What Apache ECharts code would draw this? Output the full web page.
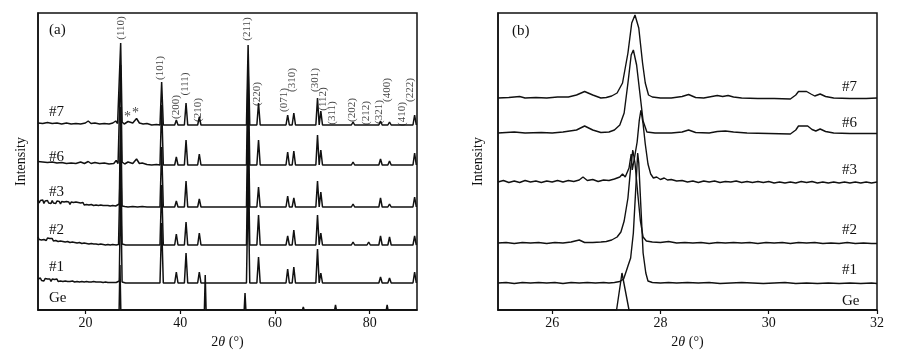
<!DOCTYPE html>
<html><head><meta charset="utf-8">
<script src="https://cdn.jsdelivr.net/npm/echarts@6/dist/echarts.min.js"></script>
<style>html,body{margin:0;padding:0;background:#fff}#c{width:905px;height:364px}</style>
</head><body><div id="c"></div>
<script>
// ---------- Panel (a) data (intensity in arbitrary units) ----------
const samples = ['#7', '#6', '#3', '#2', '#1', 'Ge'];
const aOffsets = [185, 145, 103, 65, 27, 0];
const aPeakPos = [36.1, 39.2, 41.25, 44.05, 54.35, 56.55, 62.7, 64.0, 69.0, 69.7, 72.4, 76.5, 79.8, 82.3, 84.2, 87.5, 89.5];
const aH7 = [43, 5, 22, 8, 80, 22, 10, 12, 27, 14, 2, 3, 2, 4, 3, 1, 10];
const aH6 = [60, 8, 25, 11, 100, 25, 13, 14, 30, 15, 2, 3, 2, 6, 4, 1, 12];
const aH3 = [60, 6, 26, 8, 100, 20, 11, 9, 26, 15, 1.5, 3, 2, 9, 3, 1, 10];
const aH2 = [60, 11, 23, 12, 100, 30, 9, 15, 30, 12, 2, 3, 3, 9, 8, 1, 9];
const aH1 = [60, 11, 30, 11, 100, 26, 14, 16, 34, 10, 2, 2, 2, 6, 5, 1, 11];
const aLow7 = [[10,2],[11,1.5],[12,2.5],[13,1.5],[14,2],[15,1],[16,2],[17,1],[18,1.5],[19,1],[20,2],[20.6,4],[21.2,1.5],[22,2],[23,1],[24,1.5],[25,1],[25.8,2],[26.4,4],[26.8,1.5],[27.15,3],[27.45,82],[27.75,3],[28.2,1],[28.6,1.5],[29.0,3.5],[29.4,1.5],[30,2],[30.8,6.5],[31.4,2],[32.2,1],[33,1.5],[34,0],[35,0.5]];
const aLow6 = [[10,3.5],[11,3],[12,2.5],[13,3],[14,2],[15,2.5],[16,1.5],[17,2],[18,1.5],[19,3],[19.8,1.5],[20.6,3.5],[21.2,1.5],[22,2.5],[23,1.5],[24,2],[25,1],[26,1.5],[26.5,4.5],[26.9,1.5],[27.2,3],[27.45,100],[27.75,3],[28.3,1],[29.0,3],[29.4,1],[30,1.5],[30.8,6],[31.4,1.5],[32,2],[33,0.5],[34,0],[35,0.5]];
// noisy low-angle backgrounds of #3, #2, #1 read every 0.25 deg from 10 to 26 deg
const aNoiseX0 = 10, aNoiseStep = 0.25;
const aNoise3 = [7,4,6.5,4.5,7,3.5,6,4.5,6.5,4, 6,3.5,6.5,4,5.5,3.5,6,4,5.5,3, 5.5,3.5,5,3,5.5,3.5,5,2.5,5,3, 4.5,2.5,5,3,4.5,2.5,4,2.5,4.5,2, 4,2.5,4,2,3.5,2.5,4,1.5,3.5,2, 3.5,1.5,3,2,3.5,1.5,3,1.5,3,1.5, 2.5,1,3,1.5,2.5];
const aNoise2 = [8,5.5,7.5,5,7,5.5,7.5,4.5,7,5, 6.5,4.5,6.5,4,6,4.5,6,3.5,5.5,4, 5.5,3.5,5,3,5,3.5,4.5,2.5,4.5,3, 4,2.5,4,2,3.5,2.5,3.5,1.5,3,2, 3,1.5,3,1,2.5,1.5,2.5,1,2,1, 2,0.5,1.5,1,1.5,0.5,1.5,0,1,0.5, 1,0,1,0.5,0.5];
const aNoise1 = [4,2,5,2.5,4.5,2,4.5,2.5,4,2, 4,1.5,4,2,3.5,2,4,1.5,3.5,2, 3.5,1.5,3.5,2,3,1.5,3.5,1.5,3,2, 3.5,1,3,1.5,3,1,3,1.5,3,1, 2.5,1.5,3,1,2.5,1,2.5,1.5,2.5,1, 2.5,1,2,1,2.5,0.5,2,1,2,0.5, 2,0.5,1.5,0.5,1.5];
const aTail3 = [[26.4,1],[26.8,2],[27.15,3],[27.45,100],[27.75,1],[28.3,0.5],[29,0],[30,0.5],[31,0],[32,0.5],[33,0],[35,0]];
const aTail2 = [[26.5,0],[27,0.5],[27.2,1.5],[27.45,100],[27.75,1],[28.5,0],[30,0],[32,0],[35,0]];
const aTail1 = [[26.5,0.5],[26.9,0],[27.15,2],[27.45,100],[27.75,1],[28.5,0],[31,0],[35,0]];
const aGePos = [27.3, 45.3, 53.7, 66.0, 72.8, 83.7];
const aGeH = [45, 35, 17, 3, 5, 5];
const aLabels = [['(110)',27.45,282],['(101)',35.7,242],['(200)',39.1,203],['(111)',41.0,226],['(210)',43.9,200],['(211)',54.2,281],['(220)',56.2,216],['(071)',62.0,210],['(310)',63.6,230],['(301)',68.5,230],['(112)',70.1,211],['(311)',72.0,197],['(202)',76.2,200],['(212)',79.2,197],['(321)',81.9,198],['(400)',83.6,220],['(410)',86.9,196],['(222)',88.6,220]];
const aStars = [['*',28.9,193],['*',30.6,197]];

// ---------- Panel (b) data ----------
const bOffsets = [212, 177, 128, 67, 27, 0];
const b7 = [[25,0],[25.2,0.5],[25.4,1.5],[25.5,0],[25.7,0.5],[25.9,0],[26.1,1],[26.3,1],[26.45,3],[26.6,6.5],[26.75,3],[26.9,0],[27.0,0.5],[27.1,2],[27.2,5],[27.3,15],[27.4,45],[27.47,75],[27.53,83],[27.6,70],[27.67,35],[27.72,15],[27.78,3],[27.85,1],[28.0,0],[28.2,0],[28.4,1.5],[28.52,3.5],[28.65,0.5],[28.8,0],[28.95,1.5],[29.05,2.5],[29.15,1.5],[29.25,2.5],[29.35,1],[29.5,0],[29.8,-0.5],[30.1,-0.5],[30.4,-1],[30.5,3],[30.55,6.5],[30.7,6.5],[30.78,4],[30.85,2],[30.95,4],[31.05,1.5],[31.2,0],[31.5,-0.5],[31.8,-0.5],[32,0]];
const b6 = [[25,0],[25.3,1],[25.5,0],[25.8,0.5],[26.0,0],[26.2,1],[26.45,3],[26.6,7],[26.75,3],[26.9,0.5],[27.05,1],[27.15,3],[27.25,8],[27.33,20],[27.4,50],[27.46,78],[27.5,83],[27.56,68],[27.62,40],[27.68,12],[27.75,1],[27.9,0],[28.2,0],[28.4,1],[28.52,3],[28.65,0.5],[28.9,0],[29.05,1.5],[29.2,2],[29.35,1],[29.6,0],[30.0,-0.5],[30.4,-1],[30.5,3],[30.55,7],[30.72,7],[30.8,3.5],[30.87,2],[30.95,4],[31.05,1.5],[31.2,0],[31.5,-0.5],[32,-0.5]];
const b3 = [[25,0],[25.1,1.5],[25.2,-0.5],[25.3,1],[25.4,-0.5],[25.5,1.5],[25.6,0],[25.7,1],[25.8,-0.5],[25.9,1],[26.0,0],[26.1,1.5],[26.2,0],[26.3,1.5],[26.4,0.5],[26.5,2],[26.57,5],[26.65,1.5],[26.75,2.5],[26.85,0.5],[26.95,2],[27.05,1.5],[27.15,3],[27.25,5],[27.3,8],[27.35,5],[27.42,14],[27.46,28],[27.48,12],[27.52,24],[27.57,40],[27.61,62],[27.64,72],[27.68,58],[27.72,38],[27.77,18],[27.82,8],[27.87,4],[27.93,5],[28.0,2.5],[28.07,4],[28.13,2],[28.2,2.5],[28.3,1],[28.4,1.5],[28.5,0],[28.6,1],[28.7,-0.5],[28.8,1],[28.9,0],[29.0,1],[29.1,-0.5],[29.2,0.5],[29.3,0],[29.4,1],[29.5,-0.5],[29.6,0.5],[29.7,-0.5],[29.8,0.5],[29.9,-0.5],[30.0,0.5],[30.1,-1],[30.2,0],[30.3,-1],[30.4,0],[30.5,-1],[30.6,0.5],[30.7,-0.5],[30.8,0.5],[30.9,-1],[31.0,0],[31.1,-1],[31.2,0],[31.3,-1],[31.4,0],[31.5,-1],[31.6,0],[31.7,-1],[31.8,0],[31.9,-1],[32,0]];
const b2 = [[25,0],[25.15,0.5],[25.3,-0.5],[25.45,0.5],[25.6,0],[25.75,0.5],[25.9,-0.5],[26.05,0.5],[26.2,0],[26.35,1],[26.5,3],[26.6,0.5],[26.75,0.5],[26.9,1],[27.0,1.5],[27.1,3],[27.2,6],[27.27,11],[27.33,22],[27.4,45],[27.45,75],[27.49,93],[27.53,80],[27.58,50],[27.63,22],[27.68,6],[27.74,2],[27.85,1],[28.0,0.5],[28.15,1.5],[28.3,0],[28.45,0.5],[28.6,0],[28.75,0.5],[28.9,-0.5],[29.05,0.5],[29.2,0],[29.35,0.5],[29.5,0],[29.65,0.5],[29.8,-0.5],[29.95,0.5],[30.1,0],[30.25,0.5],[30.4,-0.5],[30.55,0.5],[30.7,0],[30.85,0.5],[31.0,-0.5],[31.15,0],[31.3,-0.5],[31.45,0.5],[31.6,-0.5],[31.75,0],[31.9,-0.5],[32,-0.5]];
const b1 = [[25,0],[25.15,0.5],[25.3,-0.5],[25.45,0.5],[25.6,0],[25.75,0.5],[25.9,0],[26.05,0.5],[26.2,-0.5],[26.35,0.5],[26.5,0],[26.65,0.5],[26.8,0],[26.95,0.5],[27.05,0],[27.15,0.5],[27.25,1.5],[27.32,4],[27.37,12],[27.4,17],[27.45,25],[27.5,50],[27.55,100],[27.58,130],[27.6,120],[27.64,75],[27.68,30],[27.73,10],[27.77,2],[27.85,0.5],[28.0,0],[28.15,0.5],[28.3,0],[28.5,0.5],[28.7,0],[28.9,0.5],[29.1,-0.5],[29.3,0],[29.5,0.5],[29.7,0],[29.9,-0.5],[30.1,0],[30.3,0.5],[30.5,-0.5],[30.7,0],[30.9,-0.5],[31.1,0],[31.3,-0.5],[31.5,0],[31.7,-0.5],[31.9,0],[32,-0.5]];
const bGe = [[25,0],[27.19,0],[27.29,37],[27.42,0],[32,0]];

// ---------- build ----------
const SERIF = '"Liberation Serif","DejaVu Serif",serif';
const INK = '#111';
function noisePts(vals, tail) {
  return vals.map((v, i) => [aNoiseX0 + i * aNoiseStep, v]).concat(tail);
}
function buildA(low, heights, off, w) {
  const pts = low.map(p => [p[0], off + p[1]]);
  aPeakPos.forEach((c, i) => {
    pts.push([c - w, off], [c, off + heights[i]], [c + w, off]);
  });
  pts.sort((a, b) => a[0] - b[0]);
  return pts;
}
function buildGe() {
  const pts = [[10, 0], [90, 0]];
  aGePos.forEach((c, i) => pts.push([c - 0.18, 0], [c, aGeH[i]], [c + 0.18, 0]));
  pts.sort((a, b) => a[0] - b[0]);
  return pts;
}
const aData = [
  buildA(aLow7, aH7, aOffsets[0], 0.35),
  buildA(aLow6, aH6, aOffsets[1], 0.35),
  buildA(noisePts(aNoise3, aTail3), aH3, aOffsets[2], 0.35),
  buildA(noisePts(aNoise2, aTail2), aH2, aOffsets[3], 0.35),
  buildA(noisePts(aNoise1, aTail1), aH1, aOffsets[4], 0.35),
  buildGe()
];
const bRaw = [b7, b6, b3, b2, b1, bGe];
const bData = bRaw.map((arr, i) => arr.map(p => [p[0], bOffsets[i] + p[1]]));

const series = [];
aData.forEach((d, i) => series.push({
  type: 'line', name: 'a' + samples[i], xAxisIndex: 0, yAxisIndex: 0, data: d,
  showSymbol: false, symbol: 'none', lineStyle: { color: INK, width: 1.5 }, z: 10 - i, animation: false
}));
bData.forEach((d, i) => series.push({
  type: 'line', name: 'b' + samples[i], xAxisIndex: 1, yAxisIndex: 1, data: d,
  showSymbol: false, symbol: 'none', lineStyle: { color: INK, width: 1.4 }, z: 10 - i, animation: false
}));
series.push({
  type: 'scatter', xAxisIndex: 0, yAxisIndex: 0, symbolSize: 0, silent: true, animation: false,
  data: aLabels.map(l => ({ value: [l[1], l[2]], name: l[0] })),
  label: { show: true, position: 'inside', rotate: 90, formatter: p => p.name, color: INK, fontFamily: SERIF, fontSize: 11 }
});
series.push({
  type: 'scatter', xAxisIndex: 0, yAxisIndex: 0, symbolSize: 0, silent: true, animation: false,
  data: aStars.map(l => ({ value: [l[1], l[2]], name: l[0] })),
  label: { show: true, position: 'inside', formatter: p => p.name, color: INK, fontFamily: SERIF, fontSize: 14 }
});

function xAx(grid, min, max, ticks) {
  return {
    type: 'value', gridIndex: grid, min: min, max: max,
    name: '2{i|θ} (°)', nameLocation: 'middle', nameGap: 25,
    nameTextStyle: { color: INK, fontFamily: SERIF, fontSize: 14, rich: { i: { fontStyle: 'italic', fontFamily: SERIF, fontSize: 14, color: INK } } },
    axisLine: { show: true, onZero: false, lineStyle: { color: INK, width: 1.5 } },
    axisTick: { show: true, inside: false, length: 4, customValues: ticks, lineStyle: { color: INK, width: 1.2 } },
    axisLabel: { show: true, customValues: ticks, margin: 6, color: INK, fontFamily: SERIF, fontSize: 14 },
    splitLine: { show: false }
  };
}
function yAx(grid, gap) {
  return {
    type: 'value', gridIndex: grid, min: 0, max: 297,
    name: 'Intensity', nameLocation: 'middle', nameGap: gap,
    nameTextStyle: { color: INK, fontFamily: SERIF, fontSize: 14 },
    axisLine: { show: true, onZero: false, lineStyle: { color: INK, width: 1.5 } },
    axisTick: { show: false }, axisLabel: { show: false }, splitLine: { show: false }
  };
}
const txt = (x, y, s, align) => ({
  type: 'text', x: x, y: y, silent: true,
  style: { text: s, fill: INK, font: '15px ' + SERIF, textAlign: align || 'left', textVerticalAlign: 'middle' }
});
const graphic = [
  txt(49, 30, '(a)'), txt(512, 31, '(b)'),
  txt(49, 112, '#7'), txt(49, 157, '#6'), txt(49, 192, '#3'), txt(49, 230, '#2'), txt(49, 267, '#1'), txt(49, 298, 'Ge'),
  txt(842, 87, '#7'), txt(842, 123, '#6'), txt(842, 170, '#3'), txt(842, 230, '#2'), txt(842, 270, '#1'), txt(842, 301, 'Ge')
];

const chart = echarts.init(document.getElementById('c'), null, { renderer: 'canvas' });
chart.setOption({
  backgroundColor: '#fff',
  animation: false,
  grid: [
    { left: 38, top: 13, width: 379, height: 297, show: true, borderColor: INK, borderWidth: 1.5, backgroundColor: 'transparent' },
    { left: 498, top: 13, width: 379, height: 297, show: true, borderColor: INK, borderWidth: 1.5, backgroundColor: 'transparent' }
  ],
  xAxis: [xAx(0, 10, 90, [20, 40, 60, 80]), xAx(1, 25, 32, [26, 28, 30, 32])],
  yAxis: [yAx(0, 10), yAx(1, 13)],
  series: series,
  graphic: graphic
});
</script></body></html>
